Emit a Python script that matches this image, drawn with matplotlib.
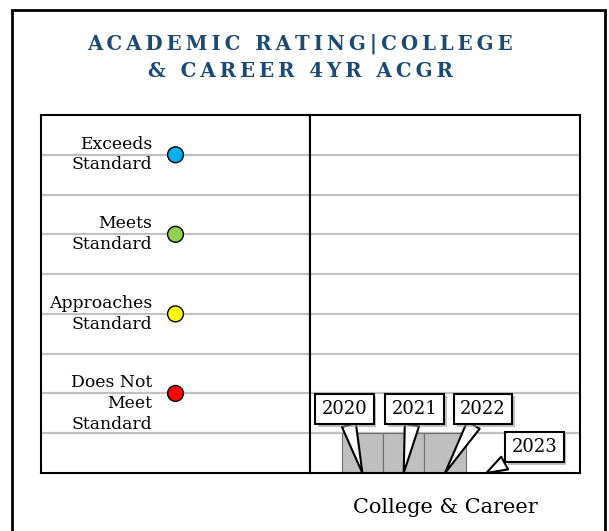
import matplotlib.pyplot as plt
import matplotlib.patheffects as pe
from matplotlib.patches import Rectangle

plt.rcParams['font.family'] = ['DejaVu Serif', 'DejaVu Sans']

# 数据
ratings = ["Does Not\nMeet\nStandard", "Approaches\nStandard", "Meets\nStandard", "Exceeds\nStandard"]
rating_levels = [1, 2, 3, 4]
rating_colors = ["#FF0000", "#FFFF00", "#92D050", "#00B0F0"]

years = ["2020", "2021", "2022", "2023"]
values = [0.5, 0.5, 0.5, 0.0]
category = "College & Career"

title_lines = ["ACADEMIC RATING|COLLEGE", "& CAREER 4YR ACGR"]


def spaced(s):
    # 字母间距
    out = []
    for word in s.split(" "):
        out.append("\u2009".join(word))
    return "\u2009 \u2009".join(out)


title = "\n".join(spaced(t) for t in title_lines)

# 图片属性
W, H = 609, 531
fig = plt.figure(figsize=(W / 100, H / 100), dpi=100)

# 外框
fig.patches.append(Rectangle((12 / W, -0.05), (605 - 12) / W, 1.05 - 10 / H,
                             transform=fig.transFigure, fill=False, ec="black", lw=2))

fig.text(300 / W, 1 - 57 / H, title, ha="center", va="center", fontsize=14.2,
         fontweight="bold", color="#1B4A72", linespacing=1.45)

bottom = (H - 473) / H
height = (473 - 115) / H
left_ax = fig.add_axes([41 / W, bottom, (310 - 41) / W, height])
right_ax = fig.add_axes([310 / W, bottom, (580 - 310) / W, height])

for ax in (left_ax, right_ax):
    ax.set_ylim(0, 4.5)
    ax.set_yticks([i * 0.5 for i in range(1, 9)])
    ax.yaxis.grid(True, color="#C0C0C0", lw=1.6)
    ax.set_axisbelow(True)
    ax.tick_params(axis="y", length=0, labelleft=False)
    for s in ax.spines.values():
        s.set_linewidth(1.5)
        s.set_color("black")

# 左侧: 等级
left_ax.set_xlim(0, 1)
left_ax.set_xticks([])
left_ax.scatter([0.5] * len(rating_levels), rating_levels, s=130, c=rating_colors,
                edgecolors="black", linewidths=1, zorder=3)
for lvl, lab in zip(rating_levels, ratings):
    left_ax.annotate(lab, xy=(0.5, lvl), xytext=(-23, 19), textcoords="offset pixels",
                     ha="right", va="top", fontsize=12.4, linespacing=1.28)

# 右侧: 柱状图
n_series = 5
w = 0.765 / n_series
right_ax.set_xlim(-0.5, 0.5)
xs = [(i - (n_series - 1) / 2) * w for i in range(len(years))]
right_ax.bar(xs, values, width=w, color="#BFBFBF", edgecolor="#6E6E6E", lw=0.8)
right_ax.set_xticks([0])
right_ax.set_xticklabels([category], fontsize=15)
right_ax.tick_params(axis="x", length=0, pad=18)

offsets = [(-18, 64), (11, 64), (38, 64), (48, 26)]
for x, yr, off in zip(xs, years, offsets):
    ann = right_ax.annotate(
        yr, xy=(x, 0), xytext=off, textcoords="offset pixels",
        ha="center", va="center", fontsize=13, annotation_clip=False,
        bbox=dict(boxstyle="square,pad=0.35", fc="white", ec="black", lw=1.5),
        arrowprops=dict(arrowstyle="wedge,tail_width=0.8", fc="white", ec="black",
                        lw=1.5, shrinkA=0, shrinkB=0))
    ann.get_bbox_patch().set_path_effects(
        [pe.SimplePatchShadow(offset=(2, -2), shadow_rgbFace="#999999", alpha=0.6), pe.Normal()])

fig.savefig("out.png", dpi=100)
